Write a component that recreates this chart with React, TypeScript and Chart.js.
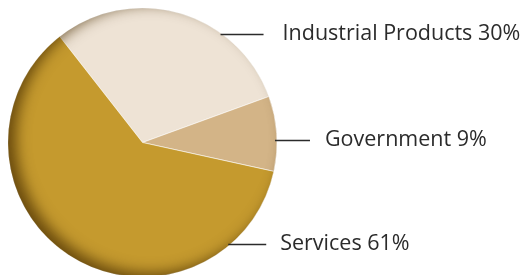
import React, { useEffect, useRef } from "react";
import { Chart, registerables } from "chart.js";

Chart.register(...registerables);

const categories = ["Industrial Products", "Government", "Services"];
const shares = [30, 9, 61];
const sliceColors = ["#EEE3D5", "#D3B487", "#C59A2E"];

// label anchor: fraction along each slice's arc, leader length, gap before text
const labelLayout = [
  { frac: 0.69, lineLen: 41, gap: 19 },
  { frac: 0.59, lineLen: 33, gap: 15 },
  { frac: 0.168, lineLen: 36, gap: 14 },
];

const shadePlugin = {
  id: "shade",
  afterDatasetsDraw(chart: any) {
    const arc = chart.getDatasetMeta(0).data[0];
    if (!arc) return;
    const { x, y, outerRadius: r } = arc;
    const ctx = chart.ctx;
    ctx.save();
    ctx.beginPath();
    ctx.arc(x, y, r, 0, Math.PI * 2);
    ctx.clip();
    const off = 5000;
    ctx.beginPath();
    ctx.rect(x - off - 600, y - 600, 1200, 1200);
    ctx.arc(x - off + 8, y - 4, r, 0, Math.PI * 2, true);
    ctx.shadowColor = "rgba(70,45,0,0.72)";
    ctx.shadowBlur = 14;
    ctx.shadowOffsetX = off;
    ctx.shadowOffsetY = 0;
    ctx.fillStyle = "#000";
    ctx.fill();
    ctx.restore();
  },
};

const labelPlugin = {
  id: "sideLabels",
  afterDraw(chart: any) {
    const meta = chart.getDatasetMeta(0);
    const ctx = chart.ctx;
    ctx.save();
    ctx.font = '21.5px "Open Sans"';
    ctx.fillStyle = "#2b2b2b";
    ctx.strokeStyle = "#2b2b2b";
    ctx.lineWidth = 1.4;
    ctx.textBaseline = "alphabetic";
    meta.data.forEach((arc: any, i: number) => {
      const L = labelLayout[i];
      const a = arc.startAngle + L.frac * (arc.endAngle - arc.startAngle);
      const px = arc.x + arc.outerRadius * Math.cos(a);
      const py = Math.round(arc.y + arc.outerRadius * Math.sin(a)) + 0.5;
      ctx.beginPath();
      ctx.moveTo(px - 2, py);
      ctx.lineTo(px + L.lineLen, py);
      ctx.stroke();
      ctx.fillText(
        `${categories[i]} ${shares[i]}%`,
        px + L.lineLen + L.gap,
        py + 5
      );
    });
    ctx.restore();
  },
};

export default function App() {
  const ref = useRef<HTMLCanvasElement>(null);
  useEffect(() => {
    document.body.style.margin = "0";
    document.body.style.overflow = "hidden";
    const chart = new Chart(ref.current!, {
      type: "pie",
      data: {
        labels: categories,
        datasets: [
          {
            data: shares,
            backgroundColor: sliceColors,
            borderColor: "rgba(255,255,255,0.55)",
            borderWidth: 1,
          },
        ],
      },
      options: {
        responsive: false,
        animation: false,
        devicePixelRatio: 1,
        rotation: -38,
        layout: { padding: { left: 7.5, top: 7.5, right: 244.5, bottom: 12.5 } },
        plugins: { legend: { display: false }, tooltip: { enabled: false } },
      },
      plugins: [shadePlugin, labelPlugin],
    });
    return () => chart.destroy();
  }, []);
  return <canvas ref={ref} width={522} height={290} style={{ display: "block" }} />;
}
